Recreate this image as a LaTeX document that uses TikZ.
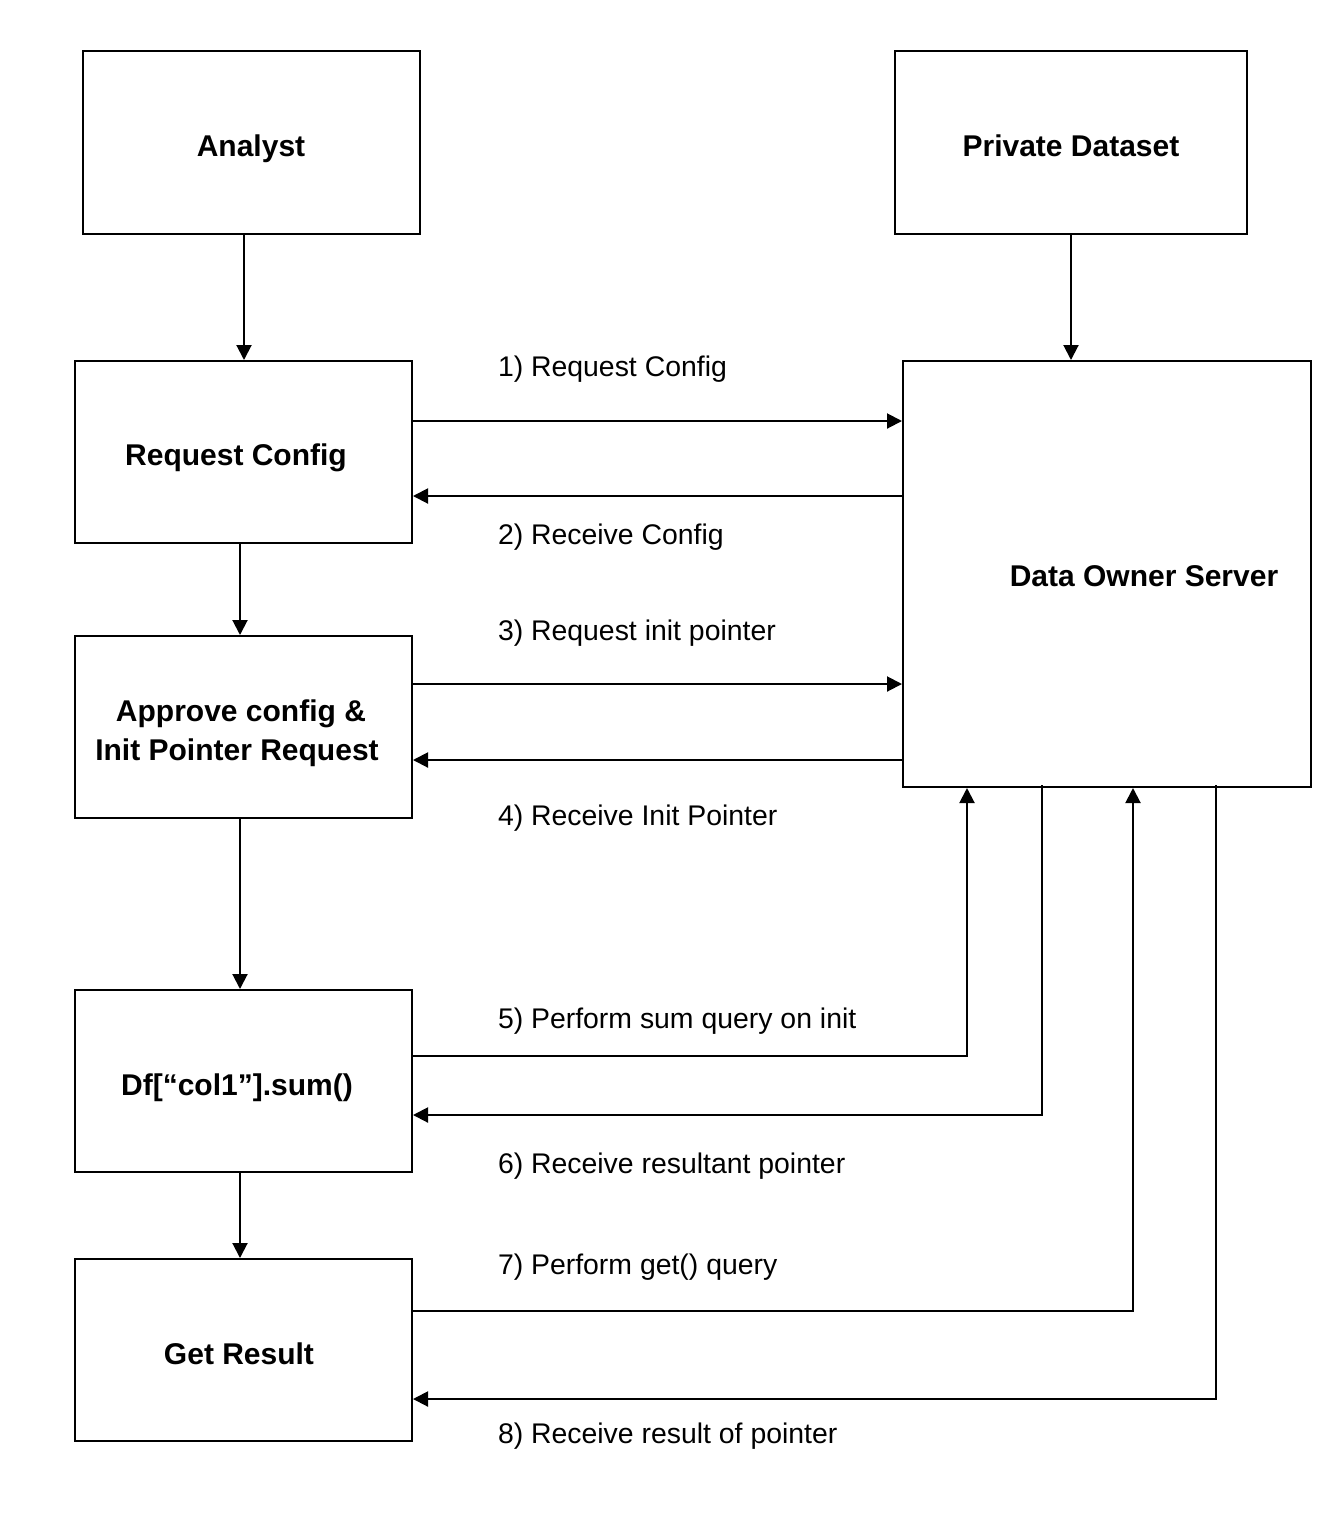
\documentclass[tikz,border=0pt]{standalone}
\usepackage{fontspec}
\setmainfont{Liberation Sans}
\usetikzlibrary{arrows.meta}
\begin{document}
\begin{tikzpicture}[x=1pt,y=-1pt,line width=2pt,
  box/.style={draw,line width=2pt,inner sep=0pt,minimum width=337pt,minimum height=182pt},
  ttl/.style={font=\bfseries\fontsize{30}{39}\selectfont,inner sep=0pt,align=center},
  lbl/.style={font=\fontsize{28.4}{34}\selectfont,inner sep=0pt,anchor=base west},
  arr/.style={-{Triangle[length=15pt,width=15pt]}}]
\useasboundingbox (0,0) rectangle (1330,1532);
% boxes
\node[box,minimum height=183pt] (an) at (251.5,142.5) {};
\node[box,minimum width=352pt,minimum height=183pt] (pd) at (1071,142.5) {};
\node[box] (rc) at (243.5,452) {};
\node[box,minimum width=408pt,minimum height=426pt] (dos) at (1107,574) {};
\node[box] (ap) at (243.5,727) {};
\node[box] (df) at (243.5,1081) {};
\node[box] (gr) at (243.5,1350) {};
% box texts
\node[ttl,anchor=base] (tan) at (251,156) {Analyst};
\node[ttl,anchor=base] (tpd) at (1071,156) {Private Dataset};
\node[ttl,anchor=base] (trc) at (236,465) {Request Config};
\node[ttl,anchor=base] (tdos) at (1144,586) {Data Owner Server};
\node[ttl] (tap) at (237,733) {\hspace*{8pt}Approve config \&\\Init Pointer Request};
\node[ttl,anchor=base] (tdf) at (237,1095) {Df[“col1”].sum()};
\node[ttl,anchor=base] (tgr) at (239,1364) {Get Result};
% vertical flow
\draw[arr] (an.south -| 244,0) -- (rc.north -| 244,0);
\draw[arr] (pd.south) -- (dos.north -| pd.south);
\draw[arr] (rc.south -| 240,0) -- (ap.north -| 240,0);
\draw[arr] (ap.south -| 240,0) -- (df.north -| 240,0);
\draw[arr] (df.south -| 240,0) -- (gr.north -| 240,0);
% messages
\draw[arr] (rc.east |- 0,421) -- (dos.west |- 0,421);
\draw[arr] (dos.west |- 0,496) -- (rc.east |- 0,496);
\draw[arr] (ap.east |- 0,684) -- (dos.west |- 0,684);
\draw[arr] (dos.west |- 0,760) -- (ap.east |- 0,760);
\draw[arr] (df.east |- 0,1056) -| (dos.south -| 967,0);
\draw[arr] ([yshift=3pt]dos.south -| 1042,0) |- (df.east |- 0,1115);
\draw[arr] (gr.east |- 0,1311) -| (dos.south -| 1133,0);
\draw[arr] ([yshift=3pt]dos.south -| 1216,0) |- (gr.east |- 0,1399);
% labels
\node[lbl] (l1) at (497,376) {1) Request Config};
\node[lbl] (l2) at (497,544) {2) Receive Config};
\node[lbl] (l3) at (497,640) {3) Request init pointer};
\node[lbl] (l4) at (497,825) {4) Receive Init Pointer};
\node[lbl] (l5) at (497,1028) {5) Perform sum query on init};
\node[lbl] (l6) at (497,1173) {6) Receive resultant pointer};
\node[lbl] (l7) at (497,1274) {7) Perform get() query};
\node[lbl] (l8) at (497,1443) {8) Receive result of pointer};
\end{tikzpicture}
\end{document}
